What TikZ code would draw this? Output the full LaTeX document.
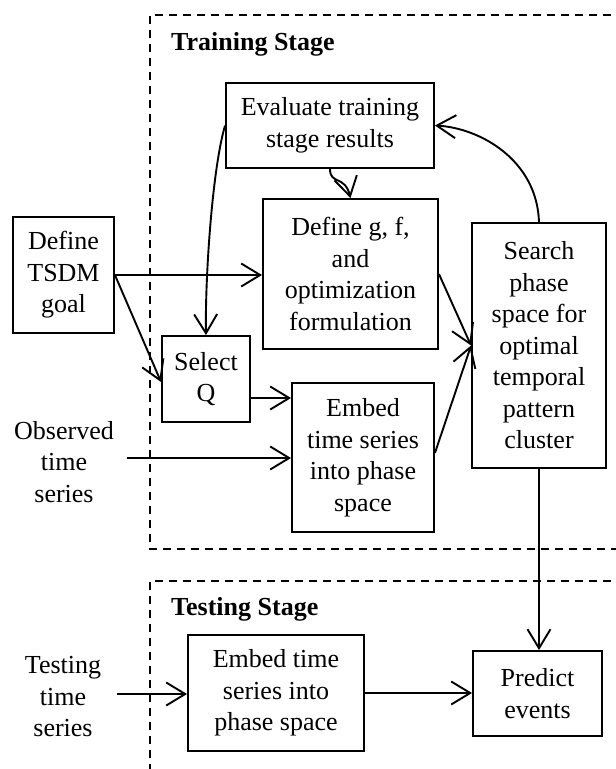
\documentclass[tikz,border=0pt]{standalone}
\usepackage{fontspec}
\setmainfont{Liberation Serif}
\usetikzlibrary{arrows.meta}
\begin{document}
\begin{tikzpicture}[x=1pt,y=-1pt,
  box/.style={draw,line width=1.9pt,inner sep=0pt,align=center,font=\fontsize{26}{31.5}\selectfont},
  lbl/.style={inner sep=0pt,align=center,font=\fontsize{26}{31.5}\selectfont},
  arr/.style={line width=1.9pt,-{Straight Barb[length=19pt,width=23pt,line width=1.9pt]}},
  dashbox/.style={line width=2pt,dash pattern=on 8pt off 6pt},
  stagelbl/.style={anchor=base west,inner sep=0pt,font=\fontsize{26}{30}\selectfont\bfseries}]
\useasboundingbox (0,0) rectangle (616,769);
\clip (0,0) rectangle (616,769);
% stage frames
\draw[dashbox] (625,15) -- (150,15) -- (150,549) -- (625,549);
\draw[dashbox] (625,581) -- (150,581) -- (150,780);
\node[stagelbl] (trl) at (171,50) {Training Stage};
\node[stagelbl] (tsl) at (171,615) {Testing Stage};
% nodes
\node[box,minimum width=208pt,minimum height=85pt] (eval) at (330,125.5) {Evaluate training\\stage results};
\node[box,minimum width=175pt,minimum height=150pt] (defg) at (350.5,274) {Define g, f,\\and\\optimization\\formulation};
\node[box,minimum width=134pt,minimum height=245pt] (search) at (539,345.5) {Search\\phase\\space for\\optimal\\temporal\\pattern\\cluster};
\node[box,minimum width=142pt,minimum height=149pt] (embed) at (363,457.5) {Embed\\time series\\into phase\\space};
\node[box,minimum width=101pt,minimum height=116pt] (tsdm) at (63.5,275) {Define\\TSDM\\goal};
\node[box,minimum width=88pt,minimum height=86pt] (selq) at (206,379) {Select\\Q};
\node[lbl] (obs) at (64,462) {Observed\\time\\series};
\node[box,minimum width=176pt,minimum height=116pt] (embt) at (276,693) {Embed time\\series into\\phase space};
\node[box,minimum width=129pt,minimum height=85pt] (pred) at (537.5,693.5) {Predict\\events};
\node[lbl] (test) at (63,697) {Testing\\time\\series};
\coordinate (obsstart) at (127,458);
\coordinate (tststart) at (117,694);
% connectors
\draw[arr] (tsdm.east) -- (tsdm.east -| defg.west);
\draw[arr] (tsdm.east) -- ([yshift=-3pt]selq.west);
\draw[arr] (eval.west) .. controls (212,170) and (205,280) .. (selq.north);
\draw[arr] (eval.south) .. controls (330,185) and (345,175) .. (defg.north);
\draw[arr] (search.north) .. controls (537,160) and (480,128) .. (eval.east);
\draw[arr] (defg.east) -- (search.west);
\draw[arr] ([yshift=4.5pt]embed.east) -- (search.west);
\draw[arr] ([yshift=-19pt]selq.east) -- ([yshift=-19pt]selq.east -| embed.west);
\draw[arr] (obsstart) -- (obsstart -| embed.west);
\draw[arr] (tststart) -- (tststart -| embt.west);
\draw[arr] (embt.east) -- (embt.east -| pred.west);
\draw[arr] (search.south) -- (search.south |- pred.north);
\end{tikzpicture}
\end{document}
